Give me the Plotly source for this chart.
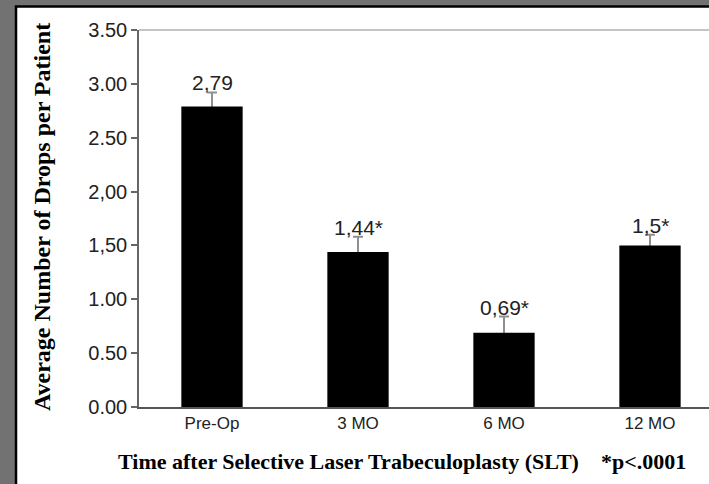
import plotly.graph_objects as go

categories = ["Pre-Op", "3 MO", "6 MO", "12 MO"]
values = [2.79, 1.44, 0.69, 1.50]
errors = [0.13, 0.14, 0.15, 0.10]
labels = ["2,79", "1,44*", "0,69*", "1,5*"]
ytick_vals = [0, 0.5, 1.0, 1.5, 2.0, 2.5, 3.0, 3.5]
ytick_text = ["0.00", "0.50", "1.00", "1,50", "2,00", "2.50", "3.00", "3.50"]

W, H = 709, 484
L, R, T, B = 139, 0, 30, 77
pw, ph = W - L - R, H - T - B

def px(x):
    return (x - L) / pw

def py(y):
    return (H - B - y) / ph

xs = list(range(len(categories)))
fig = go.Figure()
# error bars (lower half hidden by the black bars drawn on top)
fig.add_trace(go.Bar(
    x=xs, y=values, width=0.42,
    marker=dict(color="rgba(0,0,0,0)", line=dict(width=0)),
    error_y=dict(type="data", array=errors, symmetric=True,
                 color="#8f8f8f", thickness=2, width=5),
    hoverinfo="skip",
))
fig.add_trace(go.Bar(
    x=xs, y=values, width=0.42,
    marker=dict(color="black", line=dict(width=0)),
    hoverinfo="skip",
))

for i, (v, e, t) in enumerate(zip(values, errors, labels)):
    fig.add_annotation(x=i, y=v + e, text=t, showarrow=False, yanchor="bottom",
                       yshift=-4, font=dict(family="Liberation Sans", size=21, color="#222"))

# frame
fig.add_shape(type="rect", xref="paper", yref="paper",
              x0=px(16), x1=px(W + 20), y0=py(H + 20), y1=py(6.5),
              fillcolor="white", line=dict(color="black", width=2.5), layer="below")
# top light line of plot frame
fig.add_shape(type="line", xref="paper", yref="paper",
              x0=0, x1=px(W + 5), y0=1, y1=1,
              line=dict(color="#c4c4c4", width=2))

fig.add_annotation(xref="paper", yref="paper", x=px(402), y=py(461),
                   text="Time after Selective Laser Trabeculoplasty (SLT)&nbsp;&nbsp;&nbsp;&nbsp;*p<.0001",
                   showarrow=False, xanchor="center", yanchor="middle",
                   font=dict(family="Liberation Serif", size=22, color="black", weight="bold"))
fig.add_annotation(xref="paper", yref="paper", x=px(42), y=py(217),
                   text="Average Number of Drops per Patient", textangle=-90,
                   showarrow=False, xanchor="center", yanchor="middle",
                   font=dict(family="Liberation Serif", size=24, color="black", weight="bold"))

fig.update_layout(
    width=W, height=H,
    margin=dict(l=L, r=R, t=T, b=B, pad=0),
    paper_bgcolor="#727272", plot_bgcolor="white",
    showlegend=False, barmode="overlay",
    xaxis=dict(range=[-0.5, (W - L) / 146 - 0.5], tickvals=xs,
               ticktext=categories, showgrid=False, zeroline=False,
               showline=True, linecolor="#555", linewidth=2, ticks="",
               tickfont=dict(family="Liberation Sans", size=17, color="#222")),
    yaxis=dict(range=[0, 3.5], tickvals=ytick_vals, ticktext=ytick_text,
               showgrid=False, zeroline=False, showline=True, linecolor="#666",
               linewidth=1.5, ticks="outside", ticklen=6, tickcolor="#666",
               tickwidth=1.5,
               tickfont=dict(family="Liberation Sans", size=20, color="#222")),
)

fig.write_html("out.html")
